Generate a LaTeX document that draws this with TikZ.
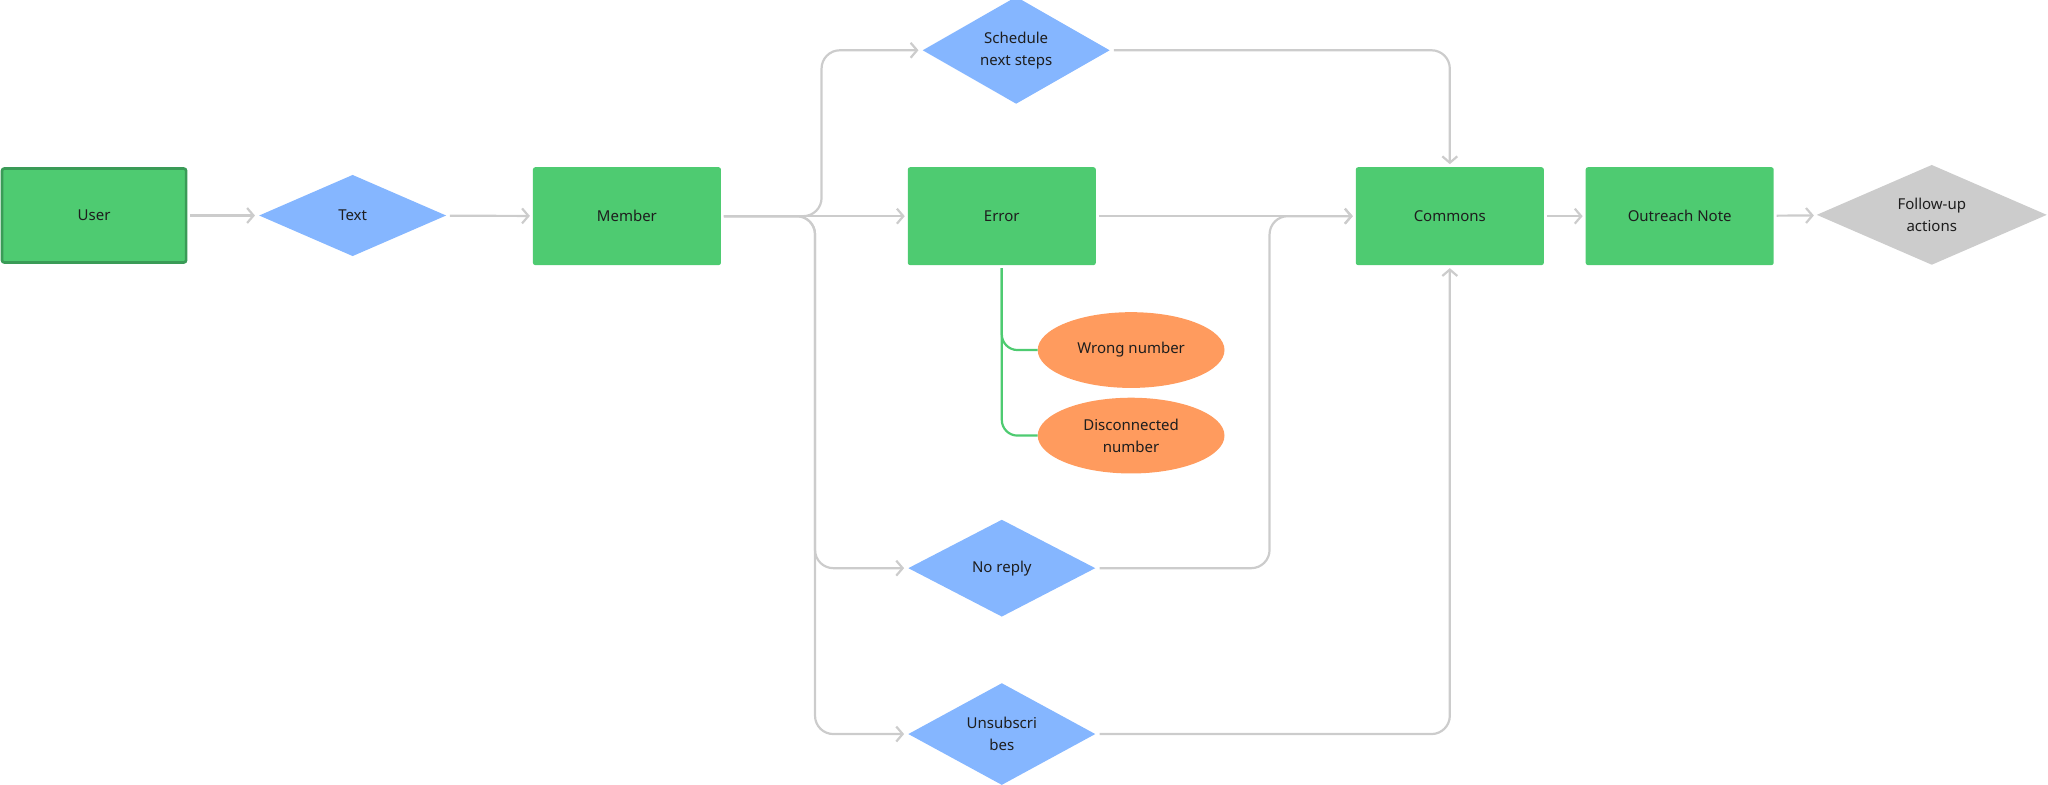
\documentclass[tikz,border=0pt]{standalone}
\usepackage{fontspec}
\setmainfont{Noto Sans}
\usetikzlibrary{shapes.geometric,arrows.meta}
\definecolor{boxgreen}{HTML}{4ECB71}
\definecolor{boxborder}{HTML}{3A9B57}
\definecolor{dblue}{HTML}{85B6FF}
\definecolor{ellorange}{HTML}{FF9B5E}
\definecolor{dgray}{HTML}{CCCCCC}
\definecolor{linegray}{HTML}{CCCCCC}
\definecolor{txt}{HTML}{1E1E1E}
\newlength\pxu \setlength\pxu{0.65306pt}
\begin{document}
\begin{tikzpicture}[x=\pxu,y=-\pxu,
  font=\fontsize{7.5}{11.1}\selectfont, text=txt,
  procbox/.style={rectangle, fill=boxgreen, minimum width=144\pxu, minimum height=75\pxu, rounded corners=1.2pt, inner sep=0pt, outer sep=1.5pt},
  userbox/.style={procbox, draw=boxborder, line width=1.3pt, minimum width=141\pxu, minimum height=72\pxu, outer sep=2pt},
  decbox/.style={diamond, fill=dblue, inner sep=0pt, outer sep=1.5pt, align=center, minimum width=145\pxu},
  graydia/.style={diamond, fill=dgray, inner sep=0pt, outer sep=1.5pt, align=center},
  ell/.style={ellipse, fill=ellorange, inner sep=0pt, minimum width=143\pxu, minimum height=58\pxu, align=center, outer sep=0pt},
  conn/.style={draw=linegray, line width=1.1pt, rounded corners=14\pxu, -{Straight Barb[length=3.2pt,width=7.5pt]}},
  greenl/.style={draw=boxgreen, line width=1.1pt, rounded corners=12\pxu}
]
\useasboundingbox (0,0) rectangle (1568,601);

\node[userbox] (user) at (72,165) {User};
\node[decbox, minimum height=64\pxu] (text) at (270,165) {Text};
\node[procbox] (member) at (480,165.5) {Member};
\node[decbox, minimum height=77\pxu] (sched) at (778,38.5) {Schedule\\next steps};
\node[procbox] (error) at (767,165.5) {Error};
\node[procbox] (commons) at (1110,165.5) {Commons};
\node[procbox] (outreach) at (1286,165.5) {Outreach Note};
\node[graydia, minimum width=178\pxu, minimum height=77\pxu] (follow) at (1479,164.5) {Follow-up\\actions};
\node[ell] (wrong) at (866,268) {Wrong number};
\node[ell] (disc) at (866,333.5) {Disconnected\\number};
\node[decbox, minimum height=76\pxu] (noreply) at (767,435) {No reply};
\node[decbox, minimum height=78\pxu] (unsub) at (767,562) {Unsubscri\\bes};

\draw[conn] (user) -- (text);
\draw[conn] (text) -- (member);
\draw[conn] (member.east) -- (error.west);
\draw[conn] (member.east) -- (629,165.5) -- (629,38.5) -- (sched.west);
\draw[conn] (member.east) -- (624,165.5) -- (624,435) -- (noreply.west);
\draw[conn] (member.east) -- (624,165.5) -- (624,562) -- (unsub.west);
\draw[conn] (sched.east) -- (1110,38.5) -- (commons.north);
\draw[conn] (error) -- (commons);
\draw[conn] (noreply.east) -- (972,435) -- (972,165.5) -- (commons.west);
\draw[conn] (unsub.east) -- (1110,562) -- (commons.south);
\draw[conn] (commons) -- (outreach);
\draw[conn] (outreach) -- (follow);

\draw[greenl] (error.south) -- (767,268) -- (wrong.west);
\draw[greenl] (error.south) -- (767,333.5) -- (disc.west);
\end{tikzpicture}
\end{document}
